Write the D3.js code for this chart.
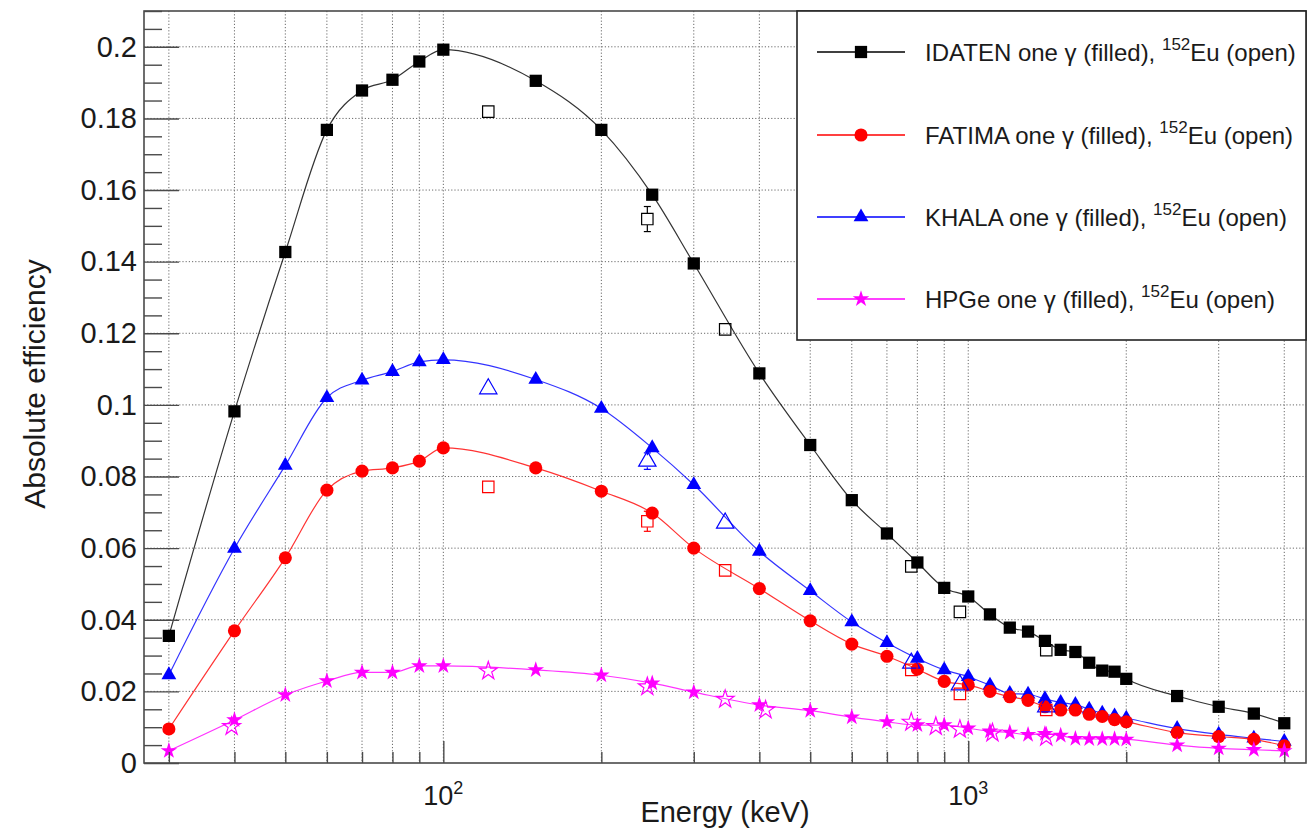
<!DOCTYPE html>
<html>
<head>
<meta charset="utf-8">
<script src="https://cdn.jsdelivr.net/npm/d3@7"></script>
<style>
body { margin: 0; background: #fff; }
svg { display: block; font-family: "Liberation Sans", Arial, Helvetica, sans-serif; }
</style>
</head>
<body>
<svg></svg>
<script>
/*
 data
*/

// energies (keV) of the single-gamma simulations
var simEnergies = [30, 40, 50, 60, 70, 80, 90, 100, 150, 200, 250, 300, 400, 500, 600, 700, 800, 900,
	1000, 1100, 1200, 1300, 1400, 1500, 1600, 1700, 1800, 1900, 2000, 2500, 3000, 3500, 4000];

var idatenSim = [0.0355, 0.0982, 0.1427, 0.1768, 0.1878, 0.1908, 0.1959, 0.1992, 0.1905, 0.1768, 0.1587, 0.1395,
	0.1088, 0.0888, 0.0734, 0.0641, 0.0560, 0.0489, 0.0465, 0.0415, 0.0378, 0.0367, 0.0341, 0.0316, 0.0310,
	0.0280, 0.0258, 0.0255, 0.0235, 0.0187, 0.0157, 0.0138, 0.0111];
var fatimaSim = [0.0095, 0.0369, 0.0573, 0.0762, 0.0815, 0.0824, 0.0843, 0.0880, 0.0824, 0.0759, 0.0698, 0.0600,
	0.0487, 0.0397, 0.0332, 0.0298, 0.0262, 0.0228, 0.0218, 0.0200, 0.0185, 0.0175, 0.0157, 0.0148, 0.0148,
	0.0136, 0.0130, 0.0121, 0.0115, 0.0085, 0.0074, 0.0066, 0.0048];
var khalaSim = [0.0246, 0.0599, 0.0831, 0.1020, 0.1069, 0.1093, 0.1120, 0.1126, 0.1071, 0.0990, 0.0880, 0.0777,
	0.0591, 0.0481, 0.0394, 0.0336, 0.0292, 0.0260, 0.0241, 0.0217, 0.0194, 0.0192, 0.0179, 0.0169, 0.0163,
	0.0150, 0.0139, 0.0131, 0.0125, 0.0096, 0.0080, 0.0069, 0.0060];
var hpgeSim = [0.0034, 0.0120, 0.0190, 0.0229, 0.0253, 0.0253, 0.0271, 0.0271, 0.0260, 0.0245, 0.0223, 0.0198,
	0.0162, 0.0146, 0.0128, 0.0115, 0.0106, 0.0106, 0.0097, 0.0089, 0.0085, 0.0079, 0.0082, 0.0077, 0.0068,
	0.0067, 0.0067, 0.0067, 0.0066, 0.0050, 0.0041, 0.0037, 0.0034];

// 152Eu source lines (keV) and measured efficiencies
var euEnergies = [121.8, 244.7, 344.3, 778.9, 964.1, 1408.0];
var idatenEu = [0.1819, 0.1519, 0.1211, 0.0549, 0.0422, 0.0315];
var idatenEuErr = [0.0008, 0.0035, 0.0008, 0.0006, 0.0005, 0.0004];
var fatimaEu = [0.0771, 0.0675, 0.0538, 0.0260, 0.0193, 0.0148];
var fatimaEuErr = [0.0005, 0.0028, 0.0006, 0.0004, 0.0003, 0.0003];
var khalaEu = [0.1045, 0.0843, 0.0670, 0.0279, 0.0218, 0.0157];
var khalaEuErr = [0.0006, 0.0023, 0.0008, 0.0005, 0.0004, 0.0003];

var hpgeEuEnergies = [39.5, 121.8, 244.7, 344.3, 411.1, 778.9, 867.4, 964.1, 1112.1, 1408.0];
var hpgeEu = [0.0102, 0.0257, 0.0213, 0.0178, 0.0148, 0.0114, 0.0102, 0.0094, 0.0084, 0.0072];
var hpgeEuErr = [0.0003, 0.0004, 0.0004, 0.0003, 0.0003, 0.0002, 0.0002, 0.0002, 0.0002, 0.0002];

var legendNames = ['IDATEN', 'FATIMA', 'KHALA', 'HPGe'];

// axis ticks
var xMinorTicks = [30, 40, 50, 60, 70, 80, 90, 200, 300, 400, 500, 600, 700, 800, 900, 2000, 3000, 4000];
var xMajorTicks = [100, 1000];
var xMajorLabels = ['2', '3'];
var yMajorTicks = [0, 0.02, 0.04, 0.06, 0.08, 0.1, 0.12, 0.14, 0.16, 0.18, 0.2];
var yMinorTicks = d3.range(0, 0.2101, 0.005).filter(function(v) { return Math.abs(v / 0.02 - Math.round(v / 0.02)) > 1e-6; });

/*
 svg window
*/
var svgWidth = 1314;
var svgHeight = 831;
var margin = { top: 11, right: 8, bottom: 68, left: 144 };
var width = svgWidth - margin.left - margin.right;
var height = svgHeight - margin.top - margin.bottom;

var svg = d3.select('svg')
	.attr('width', svgWidth)
	.attr('height', svgHeight);

var g = svg.append('g')
	.attr('transform', 'translate(' + margin.left + ',' + margin.top + ')');

var x = d3.scaleLog()
	.domain([26.9, 4400])
	.range([0, width]);

var y = d3.scaleLinear()
	.domain([0, 0.21])
	.range([height, 0]);

var axisColor = '#4a4a4a';

/*
 dotted grid
*/
var grid = g.append('g')
	.attr('stroke', '#6a6a6a')
	.attr('stroke-width', 1)
	.attr('stroke-dasharray', '1.2,2');

grid.selectAll('.gx')
	.data(xMinorTicks.concat(xMajorTicks))
	.enter().append('line')
	.attr('x1', function(d) { return x(d); })
	.attr('x2', function(d) { return x(d); })
	.attr('y1', 0)
	.attr('y2', height);

grid.selectAll('.gy')
	.data(yMajorTicks.slice(1))
	.enter().append('line')
	.attr('x1', 0)
	.attr('x2', width)
	.attr('y1', function(d) { return y(d); })
	.attr('y2', function(d) { return y(d); });

/*
 series
*/
var series = [
	{ name: 'IDATEN', color: '#000000', shape: d3.symbolSquare, size: 150, sim: idatenSim, euE: euEnergies, eu: idatenEu, euErr: idatenEuErr },
	{ name: 'KHALA', color: '#0000ff', shape: d3.symbolTriangle, size: 95, sim: khalaSim, euE: euEnergies, eu: khalaEu, euErr: khalaEuErr },
	{ name: 'FATIMA', color: '#ff0000', shape: d3.symbolCircle, size: 135, sim: fatimaSim, euE: euEnergies, eu: fatimaEu, euErr: fatimaEuErr },
	{ name: 'HPGe', color: '#ff00ff', shape: d3.symbolStar, size: 85, sim: hpgeSim, euE: hpgeEuEnergies, eu: hpgeEu, euErr: hpgeEuErr }
];

var line = d3.line()
	.x(function(d) { return x(d.e); })
	.y(function(d) { return y(d.v); })
	.curve(d3.curveMonotoneX);

series.forEach(function(s) {
	var pts = simEnergies.map(function(e, i) { return { e: e, v: s.sim[i] }; });
	g.append('path')
		.datum(pts)
		.attr('fill', 'none')
		.attr('stroke', s.color)
		.attr('stroke-opacity', 0.8)
		.attr('stroke-width', 1.2)
		.attr('d', line);
});

series.forEach(function(s) {
	var pts = simEnergies.map(function(e, i) { return { e: e, v: s.sim[i] }; });
	g.append('g').selectAll('path')
		.data(pts)
		.enter().append('path')
		.attr('transform', function(d) { return 'translate(' + x(d.e) + ',' + y(d.v) + ')'; })
		.attr('d', d3.symbol().type(s.shape).size(s.size))
		.attr('fill', s.color);
});

// open markers (152Eu) with error bars drawn outside the marker
series.forEach(function(s) {
	var pts = s.euE.map(function(e, i) { return { e: e, v: s.eu[i], err: s.euErr[i] }; });
	var half = 6;
	var eg = g.append('g').attr('stroke', s.color).attr('stroke-width', 1.2).attr('fill', 'none');
	pts.forEach(function(d) {
		var cx = x(d.e), cy = y(d.v);
		var top = y(d.v + d.err), bot = y(d.v - d.err);
		if (cy - top > half + 1) {
			eg.append('line').attr('x1', cx).attr('x2', cx).attr('y1', top).attr('y2', cy - half);
			eg.append('line').attr('x1', cx - 3.5).attr('x2', cx + 3.5).attr('y1', top).attr('y2', top);
			eg.append('line').attr('x1', cx).attr('x2', cx).attr('y1', cy + half).attr('y2', bot);
			eg.append('line').attr('x1', cx - 3.5).attr('x2', cx + 3.5).attr('y1', bot).attr('y2', bot);
		}
	});
	eg.selectAll('path')
		.data(pts)
		.enter().append('path')
		.attr('transform', function(d) { return 'translate(' + x(d.e) + ',' + y(d.v) + ')'; })
		.attr('d', d3.symbol().type(s.shape === d3.symbolCircle ? d3.symbolSquare : s.shape).size(s.shape === d3.symbolStar ? 100 : 130));
});

/*
 frame and axes (ROOT style, ticks pointing inwards)
*/
g.append('rect')
	.attr('width', width)
	.attr('height', height)
	.attr('fill', 'none')
	.attr('stroke', axisColor)
	.attr('stroke-width', 1.6);

function styleAxis(sel) {
	sel.select('.domain').remove();
	sel.selectAll('.tick line').attr('stroke', axisColor).attr('stroke-width', 1.4);
	sel.selectAll('.tick text').attr('fill', '#1a1a1a').style('font-size', '29px');
}

g.append('g')
	.attr('transform', 'translate(0,' + height + ')')
	.call(d3.axisBottom(x).tickValues(xMinorTicks).tickSize(-11).tickFormat(''))
	.call(styleAxis);

g.append('g')
	.attr('transform', 'translate(0,' + height + ')')
	.call(d3.axisBottom(x).tickValues(xMajorTicks).tickSize(-22).tickFormat(''))
	.call(styleAxis);

var xLab = g.append('g').selectAll('text')
	.data(xMajorTicks)
	.enter().append('text')
	.attr('x', function(d) { return x(d); })
	.attr('y', height + 42)
	.attr('text-anchor', 'middle')
	.attr('fill', '#1a1a1a')
	.style('font-size', '27px');
xLab.append('tspan').text('10');
xLab.append('tspan')
	.attr('dy', -11)
	.style('font-size', '18px')
	.text(function(d, i) { return xMajorLabels[i]; });

g.append('g')
	.call(d3.axisLeft(y).tickValues(yMinorTicks).tickSize(-18).tickFormat(''))
	.call(styleAxis);

g.append('g')
	.call(d3.axisLeft(y).tickValues(yMajorTicks).tickSize(-35).tickPadding(7).tickFormat(d3.format('~g')))
	.call(styleAxis)
	.call(function(a) { a.selectAll('.tick text').attr('x', -7); });

// axis titles
svg.append('text')
	.attr('x', margin.left + width / 2)
	.attr('y', 822)
	.attr('text-anchor', 'middle')
	.attr('fill', '#1a1a1a')
	.style('font-size', '29px')
	.text('Energy (keV)');

svg.append('text')
	.attr('transform', 'translate(45,' + (margin.top + height / 2 - 3) + ') rotate(-90)')
	.attr('text-anchor', 'middle')
	.attr('fill', '#1a1a1a')
	.style('font-size', '30px')
	.text('Absolute efficiency');

/*
 legend
*/
var legendOrder = [0, 2, 1, 3]; // IDATEN, FATIMA, KHALA, HPGe
var legX = 797, legY = 11, legW = 1306 - 797, legH = 329;
var legendRows = [52, 135, 217, 299];

svg.append('rect')
	.attr('x', legX)
	.attr('y', legY)
	.attr('width', legW)
	.attr('height', legH)
	.attr('fill', '#fff')
	.attr('stroke', '#222')
	.attr('stroke-width', 1.6);

legendOrder.forEach(function(si, r) {
	var s = series[si];
	var ly = legendRows[r];
	svg.append('line')
		.attr('x1', 817).attr('x2', 905)
		.attr('y1', ly).attr('y2', ly)
		.attr('stroke', s.color)
		.attr('stroke-width', 1.4);
	svg.append('path')
		.attr('transform', 'translate(861,' + ly + ')')
		.attr('d', d3.symbol().type(s.shape).size(s.size))
		.attr('fill', s.color);
	var t = svg.append('text')
		.attr('x', 925)
		.attr('y', ly + 9)
		.attr('fill', '#1a1a1a')
		.style('font-size', '24px');
	t.append('tspan').text(legendNames[r] + ' one \u03b3 (filled), ');
	t.append('tspan').attr('dy', -11).style('font-size', '17px').text('152');
	t.append('tspan').attr('dy', 11).text('Eu (open)');
});
</script>
</body>
</html>
